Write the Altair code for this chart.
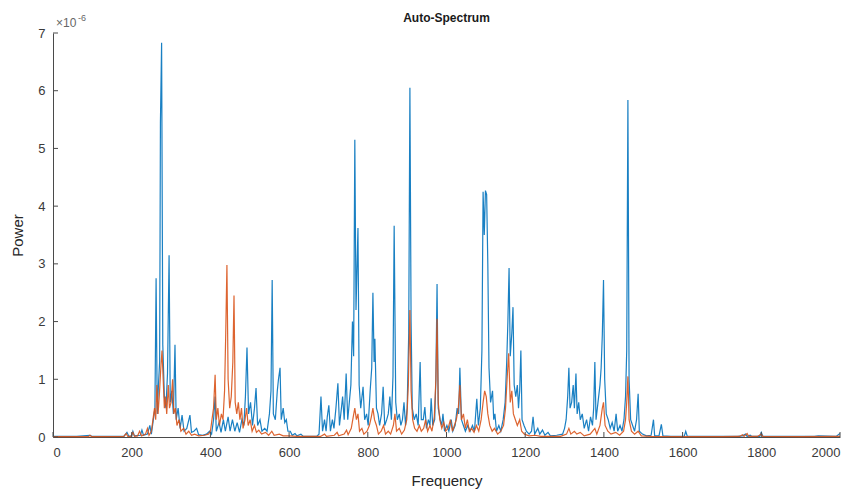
import altair as alt
import pandas as pd

# Blue series (frequency in Hz, power in units of 1e-6)
blue_freq = [0,60,94,100,180,188,193,200,203,207,222,226,230,240,246,250,255,259,262,265,268,271,273,276,279,283,287,291,295,298,302,306,310,313,318,323,328,333,340,348,352,358,365,370,380,390,398,403,408,412,415,422,427,433,438,445,450,456,462,468,474,480,485,489,493,497,502,507,512,516,520,526,531,538,544,550,554,557,560,565,570,573,577,580,585,589,593,597,603,608,615,620,630,636,670,676,681,685,690,694,697,701,705,710,714,719,724,728,733,736,740,745,749,753,757,761,764,767,770,775,778,782,788,792,797,801,806,810,813,816,818,822,826,830,835,839,843,848,852,856,860,864,867,871,875,880,884,888,892,896,900,904,907,910,913,918,923,928,933,936,941,945,949,954,958,961,965,970,973,976,979,984,988,991,995,1001,1006,1012,1016,1022,1027,1031,1034,1038,1043,1048,1054,1060,1066,1071,1077,1081,1086,1090,1093,1096,1099,1102,1105,1108,1112,1117,1120,1123,1127,1133,1138,1144,1149,1153,1156,1159,1162,1166,1169,1172,1176,1180,1183,1186,1189,1192,1197,1203,1210,1216,1220,1224,1232,1237,1244,1250,1258,1264,1280,1295,1300,1304,1308,1311,1314,1318,1322,1325,1329,1332,1336,1340,1345,1350,1356,1361,1366,1371,1374,1377,1380,1385,1390,1393,1396,1399,1402,1406,1411,1416,1421,1426,1431,1435,1441,1446,1451,1455,1458,1461,1464,1468,1473,1478,1483,1487,1490,1498,1508,1520,1526,1529,1540,1546,1550,1570,1604,1608,1612,1740,1752,1760,1764,1772,1776,1796,1800,1804,1935,1945,1990,2000]
blue_power = [0.01,0.01,0.03,0.01,0.01,0.08,0.01,0.02,0.1,0.02,0.03,0.12,0.03,0.05,0.2,0.05,0.3,0.5,2.75,0.4,0.9,1.3,5.45,6.83,1.6,0.7,0.5,1.1,3.15,0.6,0.8,0.4,1.6,0.3,0.5,0.15,0.38,0.1,0.15,0.38,0.08,0.1,0.15,0.04,0.03,0.05,0.1,0.05,0.3,0.7,0.1,0.25,0.08,0.3,0.1,0.35,0.1,0.3,0.1,0.25,0.08,0.3,0.2,0.7,1.55,0.4,0.6,0.2,0.5,0.85,0.2,0.3,0.1,0.15,0.1,0.4,0.8,2.72,0.4,0.3,0.8,1.0,1.2,0.3,0.5,0.25,0.3,0.1,0.1,0.03,0.06,0.02,0.05,0.01,0.01,0.05,0.7,0.1,0.3,0.1,0.35,0.55,0.1,0.3,0.15,0.5,0.93,0.2,0.5,0.7,0.3,1.1,0.3,0.6,0.9,2.0,1.4,5.15,2.2,3.62,0.9,0.5,0.87,0.3,0.4,0.2,0.8,1.2,2.5,1.3,1.7,0.5,0.4,0.2,0.4,0.87,0.2,0.3,0.4,0.7,0.3,1.05,3.66,0.6,0.3,0.4,0.2,0.3,0.6,0.2,0.5,1.8,6.05,2.0,0.5,0.3,0.4,0.2,1.3,0.3,0.3,0.52,0.15,0.3,0.2,0.67,0.2,0.3,1.0,2.65,0.5,0.3,0.2,0.4,0.1,0.2,0.1,0.3,0.1,0.2,0.5,0.4,1.2,0.3,0.2,0.1,0.2,0.1,0.2,0.1,0.66,0.2,0.5,1.5,4.25,3.5,4.27,4.2,3.0,1.2,0.6,0.8,0.3,0.4,0.1,0.2,0.1,0.3,0.6,1.3,2.0,2.93,1.4,1.8,2.25,0.9,0.7,0.9,0.5,0.8,1.5,0.3,0.2,0.1,0.05,0.1,0.35,0.05,0.15,0.05,0.12,0.03,0.08,0.02,0.03,0.05,0.15,0.3,0.7,1.2,0.5,0.6,0.9,0.5,1.1,0.4,0.6,0.3,0.4,0.15,0.3,0.1,0.35,0.2,0.5,1.3,0.3,0.6,0.9,1.2,1.77,2.72,1.0,0.4,0.3,0.15,0.25,0.1,0.4,0.1,0.2,0.1,0.3,0.7,1.5,5.84,1.0,0.3,0.2,0.1,0.3,0.75,0.1,0.05,0.02,0.03,0.3,0.02,0.02,0.22,0.02,0.01,0.01,0.1,0.01,0.01,0.02,0.05,0.01,0.03,0.01,0.01,0.08,0.01,0.01,0.02,0.01,0.06]

# Orange series
orange_freq = [0,90,94,98,180,186,190,198,203,207,215,220,225,235,240,244,250,254,258,261,264,267,270,274,277,280,283,286,289,293,296,300,304,307,311,315,320,325,332,338,345,352,360,370,385,395,400,404,408,412,415,419,423,428,432,436,439,442,445,449,453,457,460,463,467,471,475,479,483,488,492,496,501,506,512,517,523,530,540,548,556,562,575,585,600,620,680,690,695,715,722,726,740,746,750,758,763,767,771,775,779,785,790,798,804,809,813,817,822,827,834,840,845,852,858,865,869,873,880,886,893,899,903,907,910,914,919,925,931,936,942,947,952,958,963,969,973,976,979,983,988,993,998,1004,1010,1015,1020,1025,1030,1034,1038,1043,1048,1053,1058,1064,1070,1076,1082,1088,1093,1097,1101,1105,1110,1116,1122,1130,1138,1145,1150,1154,1158,1162,1166,1170,1175,1180,1186,1191,1198,1210,1225,1240,1290,1305,1311,1316,1325,1331,1340,1350,1365,1377,1382,1390,1396,1399,1403,1410,1418,1430,1440,1450,1455,1458,1461,1464,1470,1478,1487,1495,1520,1600,1700,1745,1752,1756,1764,1768,1790,1800,1804,1900,2000]
orange_power = [0.005,0.005,0.03,0.005,0.01,0.06,0.01,0.01,0.08,0.01,0.02,0.1,0.02,0.05,0.15,0.03,0.1,0.3,0.5,0.3,0.9,0.4,0.7,1.2,1.5,1.0,0.5,0.7,0.4,0.9,0.5,0.6,1.0,0.4,0.5,0.2,0.3,0.1,0.15,0.05,0.1,0.03,0.05,0.02,0.03,0.05,0.1,0.3,0.5,1.08,0.3,0.5,0.2,0.4,0.3,0.8,1.8,2.98,1.0,0.5,0.7,1.3,2.45,0.6,0.4,0.6,0.3,0.5,0.15,0.3,0.5,0.2,0.3,0.1,0.2,0.08,0.12,0.05,0.08,0.03,0.1,0.03,0.05,0.02,0.02,0.01,0.01,0.05,0.01,0.03,0.08,0.02,0.05,0.12,0.04,0.15,0.35,0.5,0.3,0.4,0.1,0.15,0.05,0.1,0.2,0.35,0.5,0.3,0.2,0.05,0.1,0.2,0.05,0.1,0.05,0.2,0.4,0.1,0.15,0.05,0.12,0.3,0.9,2.2,0.8,0.3,0.15,0.1,0.2,0.1,0.15,0.3,0.1,0.2,0.1,0.35,1.0,2.05,0.6,0.3,0.15,0.25,0.1,0.15,0.3,0.1,0.2,0.3,0.5,0.9,0.3,0.4,0.15,0.3,0.1,0.15,0.08,0.2,0.1,0.3,0.6,0.8,0.7,0.4,0.2,0.1,0.15,0.05,0.1,0.2,0.5,1.0,1.45,0.6,0.8,0.4,0.3,0.2,0.3,0.1,0.05,0.02,0.03,0.01,0.01,0.05,0.15,0.05,0.1,0.05,0.08,0.02,0.05,0.15,0.05,0.2,0.5,0.6,0.2,0.1,0.05,0.08,0.03,0.1,0.3,0.6,1.05,0.3,0.1,0.05,0.1,0.02,0.01,0.005,0.005,0.01,0.04,0.01,0.06,0.01,0.01,0.05,0.01,0.005,0.01]

x_ticks = [0, 200, 400, 600, 800, 1000, 1200, 1400, 1600, 1800, 2000]
y_ticks = [0, 1, 2, 3, 4, 5, 6, 7]
title_text = ["Auto-Spectrum"]

W, H = 787, 404
FONT = "Liberation Sans"
AXIS_COLOR = "#4a4a4a"

blue_df = pd.DataFrame({"f": blue_freq, "p": blue_power})
orange_df = pd.DataFrame({"f": orange_freq, "p": orange_power})

xscale = alt.Scale(domain=[0, 2000], nice=False, zero=False)
yscale = alt.Scale(domain=[0, 7], nice=False)

xaxis = alt.Axis(values=x_ticks, title="Frequency", tickSize=0, labelPadding=9,
                 titlePadding=14, grid=False, format="d")
yaxis = alt.Axis(values=y_ticks, title="Power", tickSize=0, labelPadding=8,
                 titlePadding=12, grid=False, format="d")

blue = alt.Chart(blue_df).mark_line(color="#0072BD", strokeWidth=1.2, opacity=0.9).encode(
    x=alt.X("f:Q", scale=xscale, axis=xaxis),
    y=alt.Y("p:Q", scale=yscale, axis=yaxis),
    order="f:Q",
)
orange = alt.Chart(orange_df).mark_line(color="#D95319", strokeWidth=1.2, opacity=0.9).encode(
    x=alt.X("f:Q", scale=xscale),
    y=alt.Y("p:Q", scale=yscale),
    order="f:Q",
)

xt = alt.Chart(pd.DataFrame({"t": x_ticks})).mark_rule(color=AXIS_COLOR, strokeWidth=1).encode(
    x=alt.X("t:Q", scale=xscale), y=alt.value(H), y2=alt.value(H - 5)
)
yt = alt.Chart(pd.DataFrame({"t": y_ticks})).mark_rule(color=AXIS_COLOR, strokeWidth=1).encode(
    y=alt.Y("t:Q", scale=yscale), x=alt.value(0), x2=alt.value(5)
)

exp_base = alt.Chart(pd.DataFrame({"s": ["×10"]})).mark_text(
    align="left", baseline="alphabetic", font=FONT, fontSize=12, color="#666666"
).encode(x=alt.value(3), y=alt.value(-6), text="s:N")
exp_sup = alt.Chart(pd.DataFrame({"s": ["-6"]})).mark_text(
    align="left", baseline="alphabetic", font=FONT, fontSize=9, color="#666666"
).encode(x=alt.value(25), y=alt.value(-12), text="s:N")

title = alt.Chart(pd.DataFrame({"s": title_text})).mark_text(
    align="center", baseline="middle", font=FONT, fontSize=12, fontWeight="bold",
    color="#1a1a1a"
).encode(x=alt.value(W / 2), y=alt.value(-15), text="s:N")

chart = alt.layer(blue, orange, xt, yt, exp_base, exp_sup, title).properties(
    width=W, height=H,
    autosize=alt.AutoSizeParams(type="none"),
    padding={"left": 53, "top": 33, "right": 22, "bottom": 54},
).configure_view(stroke=None).configure_axis(
    domainColor=AXIS_COLOR, domainWidth=1, labelFont=FONT, labelFontSize=13,
    labelColor="#3a3a3a", titleFont=FONT, titleFontSize=15, titleFontWeight="normal",
    titleColor="#262626",
)

chart.save("out.html", embed_options={"renderer": "svg", "actions": False})
